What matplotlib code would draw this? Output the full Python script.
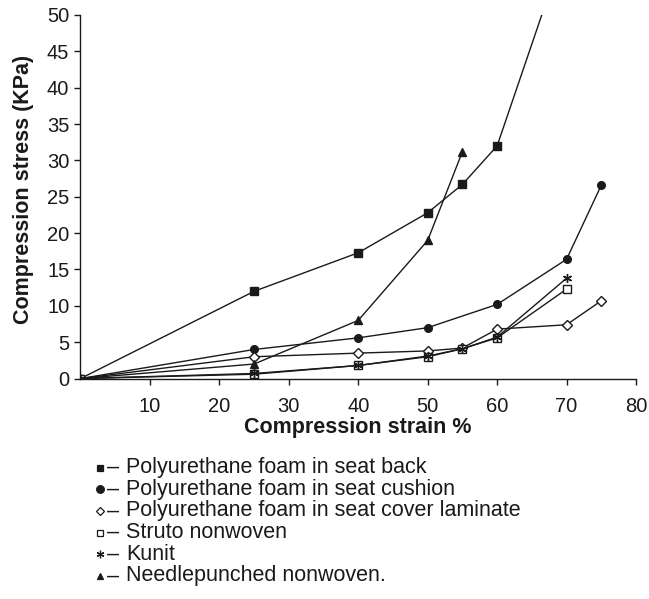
import matplotlib
matplotlib.use("Agg")
import matplotlib.pyplot as plt
from matplotlib.lines import Line2D

plt.rcParams['font.family'] = ['Liberation Sans', 'DejaVu Sans']

# Data (compression strain %, stress KPa)
strain_back = [0, 25, 40, 50, 55, 60, 70]
stress_back = [0, 12.0, 17.3, 22.8, 26.7, 32.0, 60.0]

strain_cushion = [0, 25, 40, 50, 60, 70, 75]
stress_cushion = [0, 4.0, 5.6, 7.0, 10.2, 16.4, 26.6]

strain_cover = [0, 25, 40, 50, 55, 60, 70, 75]
stress_cover = [0, 3.0, 3.5, 3.8, 4.2, 6.8, 7.4, 10.7]

strain_struto = [0, 25, 40, 50, 55, 60, 70]
stress_struto = [0, 0.6, 1.8, 3.0, 4.1, 5.6, 12.3]

strain_kunit = [0, 25, 40, 50, 55, 60, 70]
stress_kunit = [0, 0.7, 1.8, 3.1, 4.1, 5.7, 13.8]

strain_needle = [0, 25, 40, 50, 55]
stress_needle = [0, 2.0, 8.0, 19.0, 31.2]

labels = ["Polyurethane foam in seat back",
          "Polyurethane foam in seat cushion",
          "Polyurethane foam in seat cover laminate",
          "Struto nonwoven",
          "Kunit",
          "Needlepunched nonwoven."]

x_ticks = [10, 20, 30, 40, 50, 60, 70, 80]
y_ticks = [0, 5, 10, 15, 20, 25, 30, 35, 40, 45, 50]

ink = '#1a1a1a'
W, H = 649, 599
fig = plt.figure(figsize=(W / 100, H / 100), dpi=100)
ax = fig.add_axes([0.124, 0.368, 0.856, 0.607])

series = [
    (strain_back, stress_back, dict(marker='s', mfc=ink, ms=5.5)),
    (strain_cushion, stress_cushion, dict(marker='o', mfc=ink, ms=5.5)),
    (strain_cover, stress_cover, dict(marker='D', mfc='white', ms=4.8)),
    (strain_struto, stress_struto, dict(marker='s', mfc='white', ms=5.5)),
    (strain_kunit, stress_kunit, dict(marker=(6, 2, 0), mfc=ink, ms=6.5)),
    (strain_needle, stress_needle, dict(marker='^', mfc=ink, ms=6)),
]
for xs, ys, st in series:
    ax.plot(xs, ys, color=ink, lw=1.0, mec=ink, mew=1.0, **st)

ax.set_xlim(0, 80)
ax.set_ylim(0, 50)
ax.set_xticks(x_ticks)
ax.set_yticks(y_ticks)
ax.spines['top'].set_visible(False)
ax.spines['right'].set_visible(False)
for s in ('left', 'bottom'):
    ax.spines[s].set_color(ink)
    ax.spines[s].set_linewidth(1.0)
ax.tick_params(axis='both', direction='out', length=4, width=1.0,
               colors=ink, labelsize=14.5)
ax.tick_params(axis='y', pad=4)
ax.tick_params(axis='x', pad=9)

ax.set_xlabel("Compression strain %", fontsize=15.5, fontweight='bold',
              color=ink, labelpad=1)
ax.set_ylabel("Compression stress (KPa)", fontsize=15.5, fontweight='bold',
              color=ink)
ax.yaxis.set_label_coords(-0.084, 0.52)

# legend below the plot: marker, dash, text
leg_markers = [
    dict(marker='s', mfc=ink, ms=4.2),
    dict(marker='o', mfc=ink, ms=5.5),
    dict(marker='D', mfc='white', ms=4.2),
    dict(marker='s', mfc='white', ms=4.2),
    dict(marker=(6, 2, 0), mfc=ink, ms=5.5),
    dict(marker='^', mfc=ink, ms=5),
]
row0, row_step = 467.5, 21.7
for i, (lab, mk) in enumerate(zip(labels, leg_markers)):
    yf = 1 - (row0 + i * row_step) / H
    fig.add_artist(Line2D([100 / W], [yf], ls='none', color=ink, mec=ink,
                          mew=0.9, transform=fig.transFigure, **mk))
    fig.text(107 / W, yf, "–", fontsize=15.5, color=ink, va='center')
    fig.text(126 / W, yf, lab, fontsize=15.5, color=ink, va='center')

fig.savefig("out.png", dpi=100)
